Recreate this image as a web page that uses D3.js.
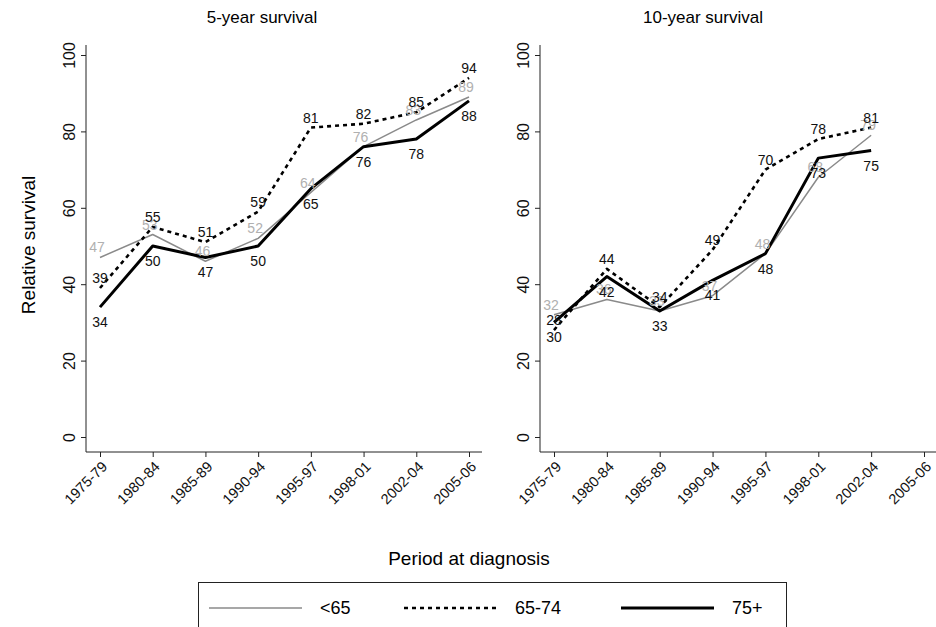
<!DOCTYPE html>
<html>
<head>
<meta charset="utf-8">
<script src="https://cdn.jsdelivr.net/npm/d3@7"></script>
<style>
  body { margin: 0; background: white; }
  text { font-family: "Liberation Sans", Arial, sans-serif; }
</style>
</head>
<body>
<div id="container"></div>
<script>
let w = 936;
let h = 627;

// DATA
let periods = ["1975-79", "1980-84", "1985-89", "1990-94", "1995-97", "1998-01", "2002-04", "2005-06"];
let yTicks = [0, 20, 40, 60, 80, 100];

let fiveYearUnder65 = [47, 53, 46, 52, 64, 76, 83, 89];
let fiveYear65to74 = [39, 55, 51, 59, 81, 82, 85, 94];
let fiveYear75plus = [34, 50, 47, 50, 65, 76, 78, 88];

let tenYearUnder65 = [32, 36, 33, 37, 48, 68, 79, null];
let tenYear65to74 = [28, 44, 34, 49, 70, 78, 81, null];
let tenYear75plus = [30, 42, 33, 41, 48, 73, 75, null];

let seriesNames = ["<65", "65-74", "75+"];

let viz = d3.select("#container").append("svg")
    .attr("width", w)
    .attr("height", h)
    .style("background-color", "white")
;

// styles per series
let styles = [
  {stroke: "#8a8a8a", width: 1.5, dash: null, label: "#b0b0b0", pos: "above"},
  {stroke: "#000", width: 2.6, dash: "4,4", label: "#111", pos: "above"},
  {stroke: "#000", width: 3, dash: null, label: "#111", pos: "below"}
];

let yScale = d3.scaleLinear().domain([0, 100]).range([437, 55]);

function drawPanel(title, titleX, axisX, xRange, axisEnd, seriesList) {
  let xScale = d3.scalePoint().domain(periods).range(xRange);
  let g = viz.append("g");

  // title
  g.append("text")
      .attr("x", titleX)
      .attr("y", 23)
      .attr("text-anchor", "middle")
      .attr("font-size", 17)
      .text(title)
  ;

  // y axis
  let yAxis = d3.axisLeft(yScale).tickValues(yTicks).tickSize(5).tickPadding(6);
  let yg = g.append("g").attr("transform", "translate(" + axisX + ",0)").call(yAxis);
  yg.select(".domain").attr("d", "M0,45V452").attr("stroke", "#222");
  yg.selectAll(".tick line").attr("stroke", "#222");
  yg.selectAll(".tick text")
      .attr("font-size", 16)
      .attr("fill", "#111")
      .attr("text-anchor", "middle")
      .attr("transform", "translate(-17,0) rotate(-90)")
      .attr("x", 0)
      .attr("dy", "0.35em")
  ;

  // x axis
  let xAxis = d3.axisBottom(xScale).tickSize(5).tickPadding(3);
  let xg = g.append("g").attr("transform", "translate(0,452)").call(xAxis);
  xg.select(".domain").attr("d", "M" + axisX + ",0H" + axisEnd).attr("stroke", "#222");
  xg.selectAll(".tick line").attr("stroke", "#222");
  xg.selectAll(".tick text")
      .attr("font-size", 14.5)
      .attr("fill", "#111")
      .attr("text-anchor", "end")
      .attr("dy", "0.35em")
      .attr("transform", "translate(4,12) rotate(-45)")
      .attr("y", 0)
  ;

  // lines
  seriesList.forEach(function(values, k) {
    let st = styles[k];
    let lineMaker = d3.line()
        .defined(function(d) { return d != null; })
        .x(function(d, i) { return xScale(periods[i]); })
        .y(function(d) { return yScale(d); })
    ;
    g.append("path")
        .datum(values)
        .attr("d", lineMaker)
        .attr("fill", "none")
        .attr("stroke", st.stroke)
        .attr("stroke-width", st.width)
        .attr("stroke-dasharray", st.dash)
        .attr("stroke-linejoin", "round")
    ;
  });

  // value labels
  seriesList.forEach(function(values, k) {
    let st = styles[k];
    g.selectAll(".lab" + k).data(values.map(function(v, i) { return {v: v, p: periods[i]}; })
        .filter(function(d) { return d.v != null; })).enter()
      .append("text")
        .attr("x", function(d) { return xScale(d.p) + (k == 0 ? -3 : 0); })
        .attr("y", function(d) { return yScale(d.v) + (st.pos == "above" ? -5 : 20); })
        .attr("text-anchor", "middle")
        .attr("font-size", 14)
        .attr("fill", st.label)
        .text(function(d) { return d.v; })
    ;
  });
}

drawPanel("5-year survival", 262, 86, [100, 469], 482,
  [fiveYearUnder65, fiveYear65to74, fiveYear75plus]);
drawPanel("10-year survival", 703, 540, [554, 924], 940,
  [tenYearUnder65, tenYear65to74, tenYear75plus]);

// axis titles
viz.append("text")
    .attr("transform", "translate(35,245) rotate(-90)")
    .attr("text-anchor", "middle")
    .attr("font-size", 19)
    .text("Relative survival")
;
viz.append("text")
    .attr("x", 469)
    .attr("y", 565)
    .attr("text-anchor", "middle")
    .attr("font-size", 19)
    .text("Period at diagnosis")
;

// legend
let legend = viz.append("g");
legend.append("rect")
    .attr("x", 198.5)
    .attr("y", 582.5)
    .attr("width", 588)
    .attr("height", 70)
    .attr("fill", "white")
    .attr("stroke", "#222")
;
let legendX = [209, 404, 621];
seriesNames.forEach(function(name, k) {
  let st = styles[k];
  legend.append("line")
      .attr("x1", legendX[k])
      .attr("x2", legendX[k] + 93)
      .attr("y1", 608)
      .attr("y2", 608)
      .attr("stroke", st.stroke)
      .attr("stroke-width", st.width)
      .attr("stroke-dasharray", st.dash)
  ;
  legend.append("text")
      .attr("x", legendX[k] + 111)
      .attr("y", 614)
      .attr("font-size", 18)
      .text(name)
  ;
});
</script>
</body>
</html>
